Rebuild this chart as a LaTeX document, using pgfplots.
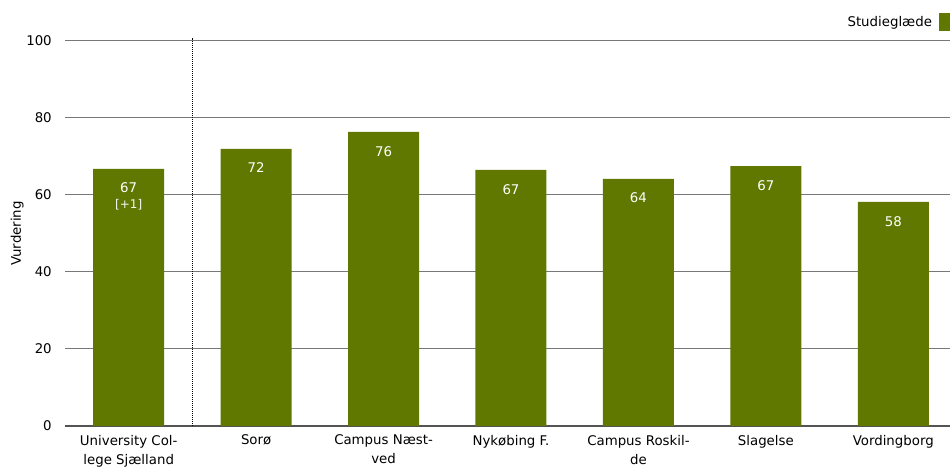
\documentclass[border=0pt]{standalone}
\usepackage{pgfplots}
\pgfplotsset{compat=1.18}
\usepackage{fontspec}
\setmainfont{DejaVu Sans}
\definecolor{barolive}{RGB}{96,120,0}
\definecolor{gridgray}{RGB}{120,120,120}

\begin{document}
\begin{tikzpicture}[x=1pt,y=1pt]
% picture frame: 950x467 px at 0.75pt per px, axis origin at (0,0)
\useasboundingbox (-48.75,-30.75) rectangle (663.75,319.5);
\begin{axis}[
    at={(0,0)}, anchor=south west,
    scale only axis,
    width=669pt, height=288.75pt,
    xmin=-0.5, xmax=6.5, ymin=0, ymax=100,
    enlargelimits=false,
    clip=false,
    ybar, bar width=53.25pt,
    axis x line=bottom, axis y line=left,
    x axis line style={-, draw=gridgray!70!black, line width=1pt},
    y axis line style={draw=none},
    major tick length=0pt,
    ymajorgrids,
    major grid style={gridgray, line width=0.75pt},
    ytick={0,20,...,100},
    xtick={0,...,6},
    xticklabels={{University Col-\\lege Sjælland},Sorø,{Campus Næst-\\ved},Nykøbing F.,{Campus Roskil-\\de},Slagelse,Vordingborg},
    xticklabel style={align=center, inner sep=0pt, anchor=north, yshift=-6.5pt,
        font=\fontsize{10}{14.25}\selectfont},
    yticklabel style={inner sep=0pt, anchor=east, xshift=-9.75pt,
        font=\fontsize{10}{12}\selectfont},
    /pgf/number format/assume math mode=true,
    ylabel={Vurdering},
    ylabel style={at={(axis description cs:-0.0537,0.5)}, anchor=center,
        font=\fontsize{10}{12}\selectfont},
    point meta=explicit symbolic,
    nodes near coords,
    every node near coord/.append style={white, anchor=north, inner sep=0pt,
        yshift=-10.5pt, font=\fontsize{10}{12}\selectfont},
    legend style={draw=none, fill=none, inner sep=0pt, outer sep=0pt,
        at={(axis description cs:1.00112,1.0494)}, anchor=east,
        nodes={inner sep=0pt}, column sep=0pt,
        font=\fontsize{10}{12}\selectfont},
    legend plot pos=right,
    legend image code/.code={%
        \path (0pt,0pt);
        \fill[barolive] (5.25pt,-7.1pt) rectangle (19.5pt,7.1pt);},
]
\addplot[fill=barolive, draw=none] coordinates {
    (0, 66.8) [67]
    (1, 72.0) [72]
    (2, 76.4) [76]
    (3, 66.5) [67]
    (4, 64.2) [64]
    (5, 67.5) [67]
    (6, 58.2) [58]
};
\legend{Studieglæde}
\node[white!92!gray, inner sep=0pt, font=\fontsize{9}{10}\selectfont]
    at (axis cs:0,66.8) [yshift=-27pt] {[+1]};
\draw[black, dash pattern=on 0.75pt off 0.75pt, line width=0.75pt]
    (axis cs:0.5,0) -- (axis cs:0.5,100.8);
\end{axis}
\end{tikzpicture}
\end{document}
